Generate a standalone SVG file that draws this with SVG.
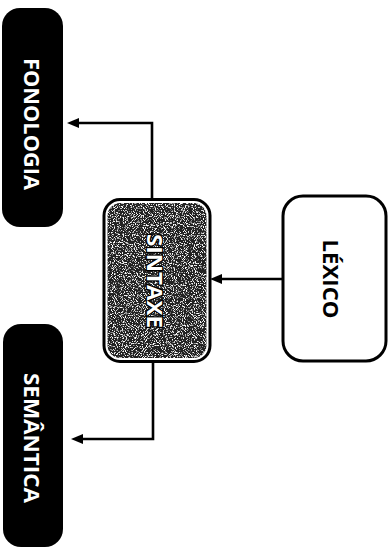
<svg xmlns="http://www.w3.org/2000/svg" width="390" height="548" viewBox="0 0 390 548">
  <style>
    .lbl { font-family: "Open Sans", "Liberation Sans", sans-serif; font-weight: 700; }
    .white { fill: #ffffff; }
    .dark { fill: #000000; }
    .conn { fill: none; stroke: #000; stroke-width: 2.6; }
  </style>
  <defs>
    <marker id="arr" viewBox="0 0 12 10" refX="1" refY="5" markerWidth="12" markerHeight="10" markerUnits="userSpaceOnUse" orient="auto">
      <path d="M0,0 L12,5 L0,10 z" fill="#000"/>
    </marker>
    <filter id="grain" x="0" y="0" width="100%" height="100%">
      <feTurbulence type="fractalNoise" baseFrequency="0.9" numOctaves="2" seed="7" result="n"/>
      <feColorMatrix in="n" type="matrix" values="0 0 0 0 1  0 0 0 0 1  0 0 0 0 1  6 0 0 0 -3.2" result="w"/>
      <feComposite in="w" in2="SourceGraphic" operator="in" result="speck"/>
      <feMerge><feMergeNode in="SourceGraphic"/><feMergeNode in="speck"/></feMerge>
    </filter>
  </defs>
  <rect width="390" height="548" fill="#fff"/>

  <g id="connectors">
    <path class="conn" d="M152,199 V123 H78" marker-end="url(#arr)"/>
    <path class="conn" d="M153,362 V439 H82" marker-end="url(#arr)"/>
    <path class="conn" d="M283,279 H221" marker-end="url(#arr)"/>
  </g>

  <g id="fonologia">
    <rect x="2" y="8" width="61" height="219" rx="18" fill="#000"/>
    <text class="lbl white" font-size="22" textLength="132" lengthAdjust="spacingAndGlyphs" text-anchor="middle" transform="translate(31.5,124) rotate(90)" y="7.8">FONOLOGIA</text>
  </g>

  <g id="semantica">
    <rect x="3" y="324" width="60" height="223" rx="18" fill="#000"/>
    <text class="lbl white" font-size="22" textLength="130" lengthAdjust="spacingAndGlyphs" text-anchor="middle" transform="translate(32,438) rotate(90)" y="7.8">SEMÂNTICA</text>
  </g>

  <g id="sintaxe">
    <rect x="104" y="199.5" width="106" height="162" rx="16" fill="#fff" stroke="#000" stroke-width="3"/>
    <rect x="107.5" y="203" width="99" height="155" rx="13" fill="#222" filter="url(#grain)"/>
    <text class="lbl" font-size="22" textLength="94" lengthAdjust="spacingAndGlyphs" text-anchor="middle" transform="translate(155,281) rotate(90)" y="7.8" fill="#fff" stroke="#000" stroke-width="2.4" paint-order="stroke">SINTAXE</text>
  </g>

  <g id="lexico">
    <rect x="283" y="196" width="103" height="165" rx="20" fill="#fff" stroke="#000" stroke-width="3"/>
    <text class="lbl dark" font-size="21" textLength="79" lengthAdjust="spacingAndGlyphs" text-anchor="middle" transform="translate(330.5,279) rotate(90)" y="7.5">LÉXICO</text>
  </g>
</svg>
